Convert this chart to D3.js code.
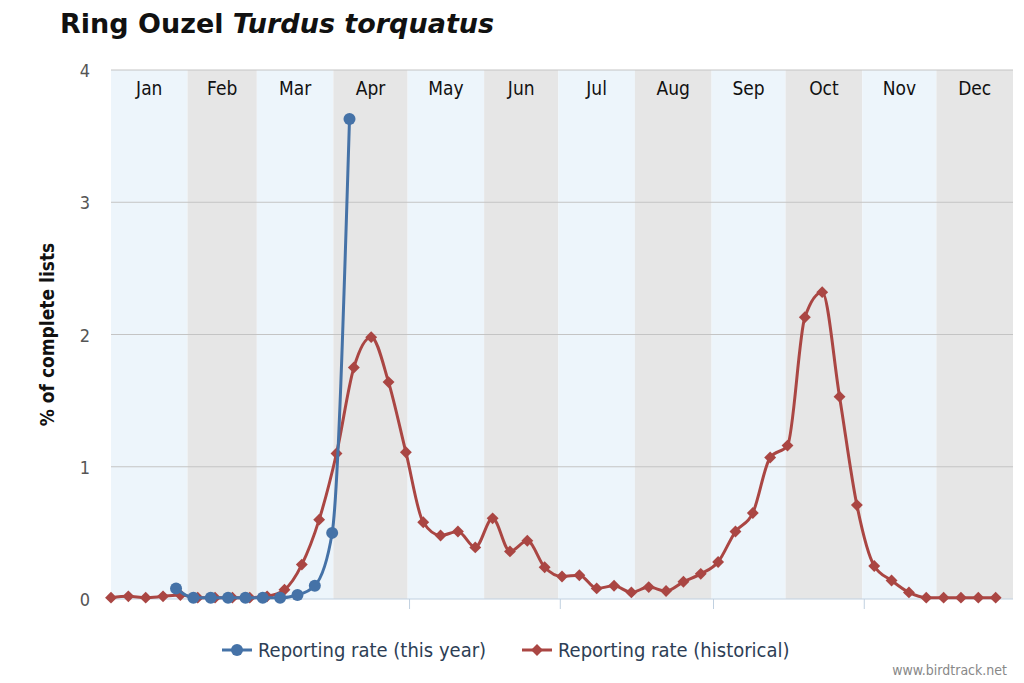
<!DOCTYPE html>
<html><head><meta charset="utf-8">
<script src="https://cdn.jsdelivr.net/npm/d3@7"></script>
<style>body{margin:0;background:#fff}text{font-family:"DejaVu Sans Condensed","DejaVu Sans",sans-serif}</style>
</head><body><svg id="c" width="1024" height="683"></svg>
<script>
var months = ["Jan","Feb","Mar","Apr","May","Jun","Jul","Aug","Sep","Oct","Nov","Dec"];
var monthDays = [31,28,31,30,31,30,31,31,30,31,30,31];
var yTicks = [0,1,2,3,4];
var historical = [0.01,0.02,0.01,0.02,0.03,0.01,0.01,0.01,0.01,0.02,0.07,0.26,0.60,1.10,1.75,1.98,
	1.64,1.11,0.58,0.48,0.51,0.39,0.61,0.36,0.44,0.24,0.17,0.18,0.08,0.10,0.05,0.09,0.06,0.13,0.19,
	0.28,0.51,0.65,1.07,1.16,2.13,2.32,1.53,0.71,0.25,0.14,0.05,0.01,0.01,0.01,0.01,0.01];
var thisYearWeeks = [3.75,4.75,5.75,6.75,7.75,8.75,9.75,10.75,11.75,12.75,13.75];
var thisYear = [0.08,0.01,0.01,0.01,0.01,0.01,0.01,0.03,0.10,0.50,3.63];
var xTickDays = [120,181,243,304];

var svg = d3.select("#c");
var plotLeft = 111, plotRight = 1013, plotTop = 70, plotBottom = 599;
var x = d3.scaleLinear().domain([0, 52]).range([plotLeft, plotRight]);
var xDay = d3.scaleLinear().domain([0, 365]).range([plotLeft, plotRight]);
var y = d3.scaleLinear().domain([0, 4]).range([plotBottom, plotTop]);

// month bands
var cum = 0;
months.forEach(function(m, i) {
	var x0 = xDay(cum), x1 = xDay(cum + monthDays[i]);
	svg.append("rect").attr("x", x0).attr("y", plotTop).attr("width", x1 - x0).attr("height", plotBottom - plotTop)
		.style("fill", i % 2 ? "#e6e6e6" : "#edf5fb");
	svg.append("text").attr("x", (x0 + x1) / 2).attr("y", 95).attr("text-anchor", "middle")
		.style("font-size", "19px").style("fill", "#111").text(m);
	cum += monthDays[i];
});

// grid
yTicks.forEach(function(t) {
	svg.append("line").attr("x1", plotLeft).attr("x2", plotRight).attr("y1", y(t)).attr("y2", y(t))
		.style("stroke", t == 0 ? "#c0d0e0" : "#c4c4c4").style("stroke-width", 1);
	svg.append("text").attr("x", 90).attr("y", y(t) + 7).attr("text-anchor", "end")
		.style("font-size", "18px").style("fill", "#555").text(t);
});
xTickDays.forEach(function(d) {
	svg.append("line").attr("x1", xDay(d) + 2).attr("x2", xDay(d) + 2).attr("y1", plotBottom).attr("y2", plotBottom + 10)
		.style("stroke", "#c0d0e0");
});

svg.append("text").attr("transform", "translate(54," + (plotBottom + plotTop) / 2 + ") rotate(-90)")
	.attr("text-anchor", "middle").style("font-size", "19px").style("font-weight", "bold").style("fill", "#111")
	.text("% of complete lists");

var title = svg.append("text").attr("x", 60).attr("y", 33).style("font-size", "27px").style("font-weight", "bold")
	.style("font-family", "DejaVu Sans").style("fill", "#111");
title.append("tspan").text("Ring Ouzel ");
title.append("tspan").style("font-style", "italic").text("Turdus torquatus");

var line = d3.line().curve(d3.curveMonotoneX);
var red = "#aa4643", blue = "#4572a7";

svg.append("path").attr("d", line(historical.map(function(v, i) { return [x(i), y(v)]; })))
	.style("fill", "none").style("stroke", red).style("stroke-width", 3);
var diamond = d3.symbol().type(d3.symbolDiamond2).size(90);
historical.forEach(function(v, i) {
	svg.append("path").attr("d", diamond).attr("transform", "translate(" + x(i) + "," + y(v) + ")").style("fill", red);
});

svg.append("path").attr("d", line(thisYear.map(function(v, i) { return [x(thisYearWeeks[i]), y(v)]; })))
	.style("fill", "none").style("stroke", blue).style("stroke-width", 3);
thisYear.forEach(function(v, i) {
	svg.append("circle").attr("cx", x(thisYearWeeks[i])).attr("cy", y(v)).attr("r", 6).style("fill", blue);
});

// legend
var lg = svg.append("g").attr("transform", "translate(222,650)");
lg.append("line").attr("x1", 0).attr("x2", 30).style("stroke", blue).style("stroke-width", 3);
lg.append("circle").attr("cx", 15).attr("r", 6).style("fill", blue);
lg.append("text").attr("x", 36).attr("y", 7).style("font-size", "20px").style("fill", "#2d3e55").text("Reporting rate (this year)");
lg.append("line").attr("x1", 300).attr("x2", 330).style("stroke", red).style("stroke-width", 3);
lg.append("path").attr("d", diamond).attr("transform", "translate(315,0)").style("fill", red);
lg.append("text").attr("x", 336).attr("y", 7).style("font-size", "20px").style("fill", "#2d3e55").text("Reporting rate (historical)");

svg.append("text").attr("x", 1007).attr("y", 675).attr("text-anchor", "end").style("font-size", "14px")
	.style("fill", "#888").text("www.birdtrack.net");
</script></body></html>
